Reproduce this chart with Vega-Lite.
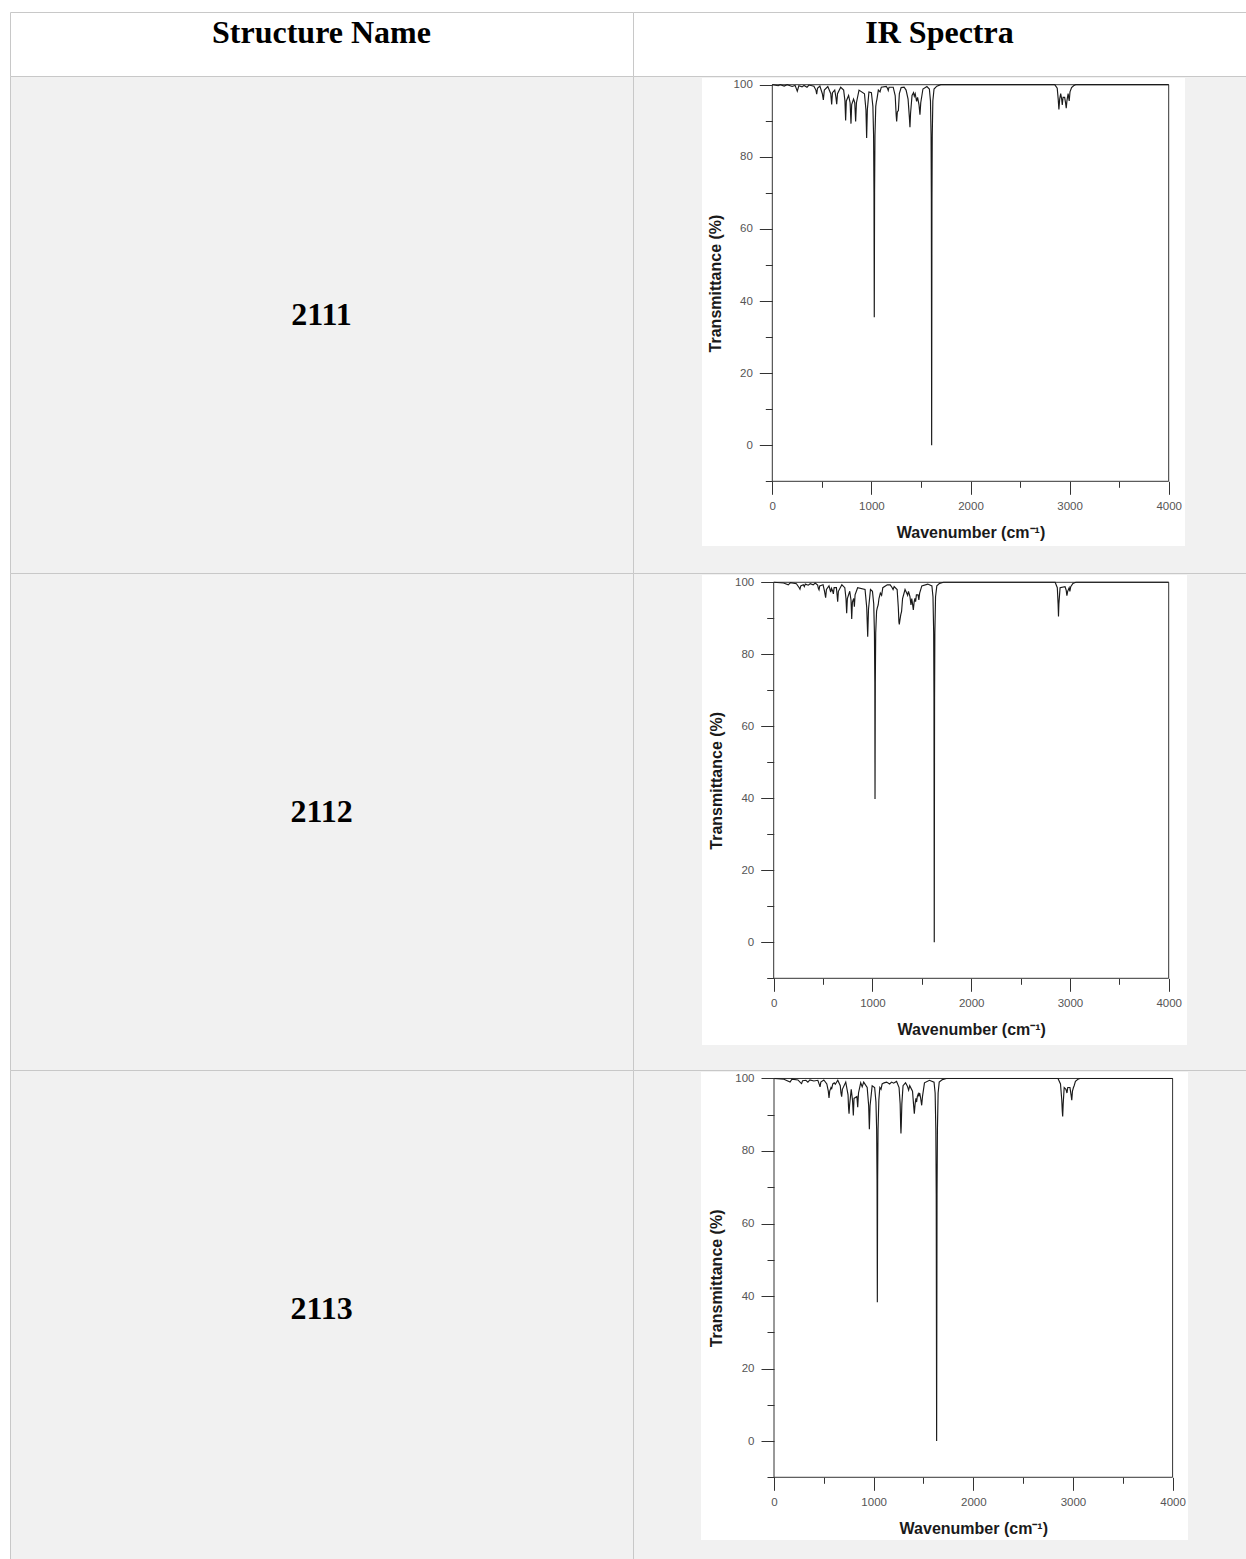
{
  "$schema": "https://vega.github.io/schema/vega-lite/v6.json",
  "background": "white",
  "padding": {"left": 9, "top": 11, "right": 0, "bottom": 0},
  "spacing": 0,
  "columns": 2,
  "bounds": "flush",
  "config": {"view": {"stroke": "#c8c8c8", "strokeWidth": 1}},
  "datasets": {
    "ir": [
      {"s":"2111","wn":0,"t":100},{"s":"2111","wn":60,"t":99.7},{"s":"2111","wn":80,"t":100},{"s":"2111","wn":120,"t":99.6},{"s":"2111","wn":150,"t":100},{"s":"2111","wn":200,"t":99.5},{"s":"2111","wn":230,"t":99.8},{"s":"2111","wn":252,"t":98.2},{"s":"2111","wn":268,"t":99.7},{"s":"2111","wn":300,"t":99.4},{"s":"2111","wn":320,"t":99.8},{"s":"2111","wn":350,"t":99.3},{"s":"2111","wn":370,"t":99.9},{"s":"2111","wn":420,"t":99.6},{"s":"2111","wn":440,"t":98.5},{"s":"2111","wn":448,"t":97.4},{"s":"2111","wn":456,"t":99.0},{"s":"2111","wn":480,"t":99.6},{"s":"2111","wn":505,"t":97.5},{"s":"2111","wn":515,"t":95.8},{"s":"2111","wn":525,"t":98.5},{"s":"2111","wn":560,"t":99.5},{"s":"2111","wn":590,"t":97.5},{"s":"2111","wn":599,"t":94.5},{"s":"2111","wn":607,"t":97.8},{"s":"2111","wn":630,"t":98.5},{"s":"2111","wn":642,"t":96.5},{"s":"2111","wn":650,"t":94.6},{"s":"2111","wn":658,"t":97.5},{"s":"2111","wn":690,"t":99.3},{"s":"2111","wn":720,"t":98.5},{"s":"2111","wn":733,"t":95.5},{"s":"2111","wn":740,"t":90.1},{"s":"2111","wn":747,"t":95.5},{"s":"2111","wn":770,"t":97},{"s":"2111","wn":785,"t":95},{"s":"2111","wn":794,"t":89.2},{"s":"2111","wn":801,"t":94.5},{"s":"2111","wn":820,"t":96},{"s":"2111","wn":832,"t":95},{"s":"2111","wn":841,"t":89.8},{"s":"2111","wn":849,"t":95},{"s":"2111","wn":875,"t":98.5},{"s":"2111","wn":930,"t":97.5},{"s":"2111","wn":945,"t":93},{"s":"2111","wn":952,"t":85.2},{"s":"2111","wn":959,"t":93},{"s":"2111","wn":975,"t":98},{"s":"2111","wn":1000,"t":97.8},{"s":"2111","wn":1015,"t":94},{"s":"2111","wn":1022,"t":86},{"s":"2111","wn":1026,"t":70},{"s":"2111","wn":1029,"t":35.5},{"s":"2111","wn":1032,"t":70},{"s":"2111","wn":1036,"t":86},{"s":"2111","wn":1044,"t":94},{"s":"2111","wn":1050,"t":95.2},{"s":"2111","wn":1056,"t":96},{"s":"2111","wn":1070,"t":98.5},{"s":"2111","wn":1087,"t":98},{"s":"2111","wn":1100,"t":99.3},{"s":"2111","wn":1150,"t":99.5},{"s":"2111","wn":1162,"t":99},{"s":"2111","wn":1170,"t":98.4},{"s":"2111","wn":1178,"t":99.3},{"s":"2111","wn":1220,"t":99.3},{"s":"2111","wn":1240,"t":97},{"s":"2111","wn":1250,"t":91.5},{"s":"2111","wn":1255,"t":89.8},{"s":"2111","wn":1262,"t":92.5},{"s":"2111","wn":1272,"t":92.8},{"s":"2111","wn":1282,"t":97.5},{"s":"2111","wn":1300,"t":99.2},{"s":"2111","wn":1330,"t":99.3},{"s":"2111","wn":1350,"t":98.5},{"s":"2111","wn":1370,"t":96},{"s":"2111","wn":1383,"t":91},{"s":"2111","wn":1389,"t":88.2},{"s":"2111","wn":1395,"t":92},{"s":"2111","wn":1410,"t":97},{"s":"2111","wn":1425,"t":97.8},{"s":"2111","wn":1433,"t":96.8},{"s":"2111","wn":1442,"t":97.5},{"s":"2111","wn":1456,"t":95.4},{"s":"2111","wn":1466,"t":96.5},{"s":"2111","wn":1480,"t":94.5},{"s":"2111","wn":1490,"t":91.7},{"s":"2111","wn":1498,"t":95},{"s":"2111","wn":1520,"t":98.8},{"s":"2111","wn":1560,"t":99.5},{"s":"2111","wn":1585,"t":98.8},{"s":"2111","wn":1596,"t":95.5},{"s":"2111","wn":1602,"t":86},{"s":"2111","wn":1605,"t":68},{"s":"2111","wn":1608,"t":0},{"s":"2111","wn":1611,"t":68},{"s":"2111","wn":1614,"t":86},{"s":"2111","wn":1620,"t":95.5},{"s":"2111","wn":1632,"t":98.8},{"s":"2111","wn":1660,"t":99.6},{"s":"2111","wn":1700,"t":100},{"s":"2111","wn":2850,"t":100},{"s":"2111","wn":2875,"t":99},{"s":"2111","wn":2885,"t":96},{"s":"2111","wn":2892,"t":93.1},{"s":"2111","wn":2900,"t":96},{"s":"2111","wn":2910,"t":97.5},{"s":"2111","wn":2920,"t":96},{"s":"2111","wn":2926,"t":94.4},{"s":"2111","wn":2934,"t":96.5},{"s":"2111","wn":2950,"t":96.5},{"s":"2111","wn":2960,"t":94.8},{"s":"2111","wn":2966,"t":93.5},{"s":"2111","wn":2973,"t":95.5},{"s":"2111","wn":2985,"t":97.5},{"s":"2111","wn":2996,"t":95.5},{"s":"2111","wn":3004,"t":98},{"s":"2111","wn":3020,"t":99.2},{"s":"2111","wn":3040,"t":99.7},{"s":"2111","wn":3060,"t":100},{"s":"2111","wn":4000,"t":100},

      {"s":"2112","wn":0,"t":100},{"s":"2112","wn":100,"t":99.8},{"s":"2112","wn":148,"t":99.3},{"s":"2112","wn":170,"t":99.9},{"s":"2112","wn":230,"t":99.6},{"s":"2112","wn":258,"t":98.5},{"s":"2112","wn":266,"t":98.1},{"s":"2112","wn":274,"t":99.0},{"s":"2112","wn":300,"t":99.3},{"s":"2112","wn":310,"t":98.8},{"s":"2112","wn":320,"t":99.5},{"s":"2112","wn":350,"t":99.2},{"s":"2112","wn":370,"t":99.6},{"s":"2112","wn":400,"t":99.3},{"s":"2112","wn":420,"t":99.8},{"s":"2112","wn":445,"t":99.2},{"s":"2112","wn":452,"t":98.3},{"s":"2112","wn":459,"t":97.9},{"s":"2112","wn":466,"t":99.0},{"s":"2112","wn":500,"t":99.3},{"s":"2112","wn":515,"t":97.5},{"s":"2112","wn":526,"t":95.7},{"s":"2112","wn":534,"t":98.0},{"s":"2112","wn":560,"t":99.0},{"s":"2112","wn":570,"t":98.0},{"s":"2112","wn":577,"t":97.3},{"s":"2112","wn":585,"t":98.3},{"s":"2112","wn":598,"t":97.5},{"s":"2112","wn":604,"t":96.8},{"s":"2112","wn":612,"t":98.5},{"s":"2112","wn":635,"t":98.5},{"s":"2112","wn":642,"t":96.5},{"s":"2112","wn":648,"t":94.6},{"s":"2112","wn":655,"t":97.5},{"s":"2112","wn":690,"t":99.3},{"s":"2112","wn":720,"t":98.5},{"s":"2112","wn":732,"t":95.5},{"s":"2112","wn":739,"t":91.4},{"s":"2112","wn":746,"t":95.5},{"s":"2112","wn":770,"t":97.5},{"s":"2112","wn":783,"t":95},{"s":"2112","wn":790,"t":89.8},{"s":"2112","wn":797,"t":94.5},{"s":"2112","wn":810,"t":95.5},{"s":"2112","wn":817,"t":93.2},{"s":"2112","wn":824,"t":96.5},{"s":"2112","wn":850,"t":98.5},{"s":"2112","wn":925,"t":98},{"s":"2112","wn":942,"t":93},{"s":"2112","wn":952,"t":84.9},{"s":"2112","wn":960,"t":92.5},{"s":"2112","wn":980,"t":98},{"s":"2112","wn":1000,"t":97.5},{"s":"2112","wn":1013,"t":94},{"s":"2112","wn":1020,"t":86},{"s":"2112","wn":1024,"t":72},{"s":"2112","wn":1026,"t":39.8},{"s":"2112","wn":1029,"t":72},{"s":"2112","wn":1033,"t":86},{"s":"2112","wn":1042,"t":92},{"s":"2112","wn":1050,"t":93},{"s":"2112","wn":1058,"t":93.7},{"s":"2112","wn":1066,"t":95.5},{"s":"2112","wn":1080,"t":97},{"s":"2112","wn":1093,"t":96.4},{"s":"2112","wn":1105,"t":98.5},{"s":"2112","wn":1150,"t":99.3},{"s":"2112","wn":1180,"t":99.3},{"s":"2112","wn":1200,"t":98.5},{"s":"2112","wn":1209,"t":98},{"s":"2112","wn":1220,"t":98.8},{"s":"2112","wn":1250,"t":98},{"s":"2112","wn":1262,"t":93},{"s":"2112","wn":1268,"t":89},{"s":"2112","wn":1272,"t":88.3},{"s":"2112","wn":1278,"t":89.5},{"s":"2112","wn":1287,"t":91},{"s":"2112","wn":1295,"t":91.9},{"s":"2112","wn":1305,"t":95.5},{"s":"2112","wn":1330,"t":98},{"s":"2112","wn":1350,"t":96.8},{"s":"2112","wn":1356,"t":96.4},{"s":"2112","wn":1365,"t":97.5},{"s":"2112","wn":1380,"t":96},{"s":"2112","wn":1390,"t":93.7},{"s":"2112","wn":1398,"t":95.5},{"s":"2112","wn":1406,"t":94},{"s":"2112","wn":1414,"t":92.3},{"s":"2112","wn":1422,"t":94.5},{"s":"2112","wn":1430,"t":95.5},{"s":"2112","wn":1437,"t":94.6},{"s":"2112","wn":1445,"t":96.5},{"s":"2112","wn":1462,"t":96.5},{"s":"2112","wn":1470,"t":95.1},{"s":"2112","wn":1478,"t":97},{"s":"2112","wn":1500,"t":99},{"s":"2112","wn":1560,"t":99.5},{"s":"2112","wn":1602,"t":99},{"s":"2112","wn":1613,"t":96},{"s":"2112","wn":1620,"t":86},{"s":"2112","wn":1623,"t":68},{"s":"2112","wn":1626,"t":0},{"s":"2112","wn":1629,"t":68},{"s":"2112","wn":1632,"t":86},{"s":"2112","wn":1639,"t":96},{"s":"2112","wn":1652,"t":99},{"s":"2112","wn":1680,"t":99.7},{"s":"2112","wn":1720,"t":100},{"s":"2112","wn":2850,"t":100},{"s":"2112","wn":2872,"t":98.5},{"s":"2112","wn":2880,"t":94},{"s":"2112","wn":2884,"t":90.5},{"s":"2112","wn":2888,"t":94},{"s":"2112","wn":2900,"t":98.5},{"s":"2112","wn":2950,"t":98.8},{"s":"2112","wn":2962,"t":97.8},{"s":"2112","wn":2969,"t":96.3},{"s":"2112","wn":2977,"t":97.5},{"s":"2112","wn":2992,"t":98.5},{"s":"2112","wn":2999,"t":97.5},{"s":"2112","wn":3008,"t":98.8},{"s":"2112","wn":3030,"t":99.7},{"s":"2112","wn":3060,"t":100},{"s":"2112","wn":4000,"t":100},

      {"s":"2113","wn":0,"t":100},{"s":"2113","wn":100,"t":99.8},{"s":"2113","wn":161,"t":99.0},{"s":"2113","wn":180,"t":99.8},{"s":"2113","wn":240,"t":99.6},{"s":"2113","wn":268,"t":98.8},{"s":"2113","wn":277,"t":98.6},{"s":"2113","wn":287,"t":99.4},{"s":"2113","wn":320,"t":99.5},{"s":"2113","wn":340,"t":99.0},{"s":"2113","wn":360,"t":99.6},{"s":"2113","wn":400,"t":99.3},{"s":"2113","wn":440,"t":99.5},{"s":"2113","wn":455,"t":98.3},{"s":"2113","wn":462,"t":97.7},{"s":"2113","wn":470,"t":99.0},{"s":"2113","wn":500,"t":99.6},{"s":"2113","wn":530,"t":98.5},{"s":"2113","wn":545,"t":96.5},{"s":"2113","wn":552,"t":94.6},{"s":"2113","wn":559,"t":96.5},{"s":"2113","wn":572,"t":97.5},{"s":"2113","wn":579,"t":97.2},{"s":"2113","wn":590,"t":98.5},{"s":"2113","wn":605,"t":98.8},{"s":"2113","wn":615,"t":98.4},{"s":"2113","wn":640,"t":99.5},{"s":"2113","wn":665,"t":98},{"s":"2113","wn":672,"t":96},{"s":"2113","wn":679,"t":95},{"s":"2113","wn":686,"t":97},{"s":"2113","wn":720,"t":99},{"s":"2113","wn":743,"t":95.5},{"s":"2113","wn":748,"t":92},{"s":"2113","wn":753,"t":90.3},{"s":"2113","wn":758,"t":92.5},{"s":"2113","wn":775,"t":97},{"s":"2113","wn":788,"t":94},{"s":"2113","wn":796,"t":89.8},{"s":"2113","wn":803,"t":94.5},{"s":"2113","wn":832,"t":95},{"s":"2113","wn":840,"t":92.1},{"s":"2113","wn":848,"t":96},{"s":"2113","wn":870,"t":98.8},{"s":"2113","wn":885,"t":97.7},{"s":"2113","wn":900,"t":99},{"s":"2113","wn":935,"t":97.5},{"s":"2113","wn":950,"t":92.5},{"s":"2113","wn":957,"t":86},{"s":"2113","wn":964,"t":92.5},{"s":"2113","wn":985,"t":98},{"s":"2113","wn":1010,"t":97.5},{"s":"2113","wn":1023,"t":93.5},{"s":"2113","wn":1030,"t":86},{"s":"2113","wn":1034,"t":72},{"s":"2113","wn":1037,"t":38.3},{"s":"2113","wn":1040,"t":72},{"s":"2113","wn":1044,"t":86},{"s":"2113","wn":1052,"t":94},{"s":"2113","wn":1062,"t":97.5},{"s":"2113","wn":1074,"t":97},{"s":"2113","wn":1085,"t":98.5},{"s":"2113","wn":1105,"t":98.8},{"s":"2113","wn":1130,"t":99},{"s":"2113","wn":1160,"t":98.5},{"s":"2113","wn":1180,"t":99},{"s":"2113","wn":1200,"t":98.7},{"s":"2113","wn":1230,"t":99.2},{"s":"2113","wn":1255,"t":97.5},{"s":"2113","wn":1266,"t":93},{"s":"2113","wn":1271,"t":87},{"s":"2113","wn":1274,"t":84.8},{"s":"2113","wn":1277,"t":87},{"s":"2113","wn":1283,"t":93},{"s":"2113","wn":1295,"t":98},{"s":"2113","wn":1320,"t":98.8},{"s":"2113","wn":1340,"t":97.8},{"s":"2113","wn":1351,"t":96.8},{"s":"2113","wn":1362,"t":98},{"s":"2113","wn":1390,"t":96.5},{"s":"2113","wn":1400,"t":93},{"s":"2113","wn":1408,"t":90.3},{"s":"2113","wn":1416,"t":93},{"s":"2113","wn":1424,"t":94.5},{"s":"2113","wn":1431,"t":93.5},{"s":"2113","wn":1438,"t":95},{"s":"2113","wn":1448,"t":95.8},{"s":"2113","wn":1454,"t":95.3},{"s":"2113","wn":1462,"t":96},{"s":"2113","wn":1472,"t":94.5},{"s":"2113","wn":1482,"t":92.6},{"s":"2113","wn":1490,"t":95},{"s":"2113","wn":1510,"t":98.8},{"s":"2113","wn":1560,"t":99.5},{"s":"2113","wn":1606,"t":99},{"s":"2113","wn":1617,"t":96},{"s":"2113","wn":1624,"t":86},{"s":"2113","wn":1628,"t":68},{"s":"2113","wn":1632,"t":0},{"s":"2113","wn":1636,"t":68},{"s":"2113","wn":1640,"t":86},{"s":"2113","wn":1647,"t":96},{"s":"2113","wn":1658,"t":99},{"s":"2113","wn":1690,"t":99.7},{"s":"2113","wn":1730,"t":100},{"s":"2113","wn":2850,"t":100},{"s":"2113","wn":2875,"t":98.5},{"s":"2113","wn":2888,"t":94},{"s":"2113","wn":2893,"t":91},{"s":"2113","wn":2897,"t":89.5},{"s":"2113","wn":2902,"t":93},{"s":"2113","wn":2912,"t":97.5},{"s":"2113","wn":2930,"t":97},{"s":"2113","wn":2940,"t":96},{"s":"2113","wn":2948,"t":97.5},{"s":"2113","wn":2970,"t":97.5},{"s":"2113","wn":2981,"t":95.5},{"s":"2113","wn":2988,"t":94},{"s":"2113","wn":2995,"t":96.5},{"s":"2113","wn":3005,"t":97.5},{"s":"2113","wn":3012,"t":98},{"s":"2113","wn":3025,"t":99.2},{"s":"2113","wn":3050,"t":99.8},{"s":"2113","wn":3070,"t":100},{"s":"2113","wn":4000,"t":100}
    ]
  },
  "concat": [
    {
      "width": 623, "height": 64,
      "view": {"fill": "white", "stroke": "#c8c8c8"},
      "data": {"values": [{"label": "Structure Name"}]},
      "mark": {"type": "text", "font": "Liberation Serif", "fontSize": 32, "fontWeight": "bold", "color": "black", "align": "center", "baseline": "alphabetic", "dy": -1},
      "encoding": {"text": {"field": "label"}}
    },
    {
      "width": 613, "height": 64,
      "view": {"fill": "white", "stroke": "#c8c8c8"},
      "data": {"values": [{"label": "IR Spectra"}]},
      "mark": {"type": "text", "font": "Liberation Serif", "fontSize": 32, "fontWeight": "bold", "color": "black", "align": "center", "baseline": "alphabetic", "dy": -1},
      "encoding": {"text": {"field": "label"}}
    },
    {
      "width": 623, "height": 497,
      "view": {"fill": "#f1f1f1", "stroke": "#c8c8c8"},
      "data": {"values": [{"label": "2111"}]},
      "mark": {"type": "text", "font": "Liberation Serif", "fontSize": 32, "fontWeight": "bold", "color": "black", "align": "center", "baseline": "alphabetic", "dy": 0},
      "encoding": {"text": {"field": "label"}}
    },
    {
      "width": 613, "height": 497,
      "view": {"fill": "#f1f1f1", "stroke": "#c8c8c8"},
      "layer": [
        {
          "data": {"values": [{}]},
          "mark": {"type": "rect", "fill": "white"},
          "encoding": {
            "x": {"datum": -709, "type": "quantitative", "scale": {"domain": [-1405.7, 4780], "nice": false, "zero": false}, "axis": {"title": "Wavenumber (cm⁻¹)"}},
            "x2": {"datum": 4164.5},
            "y": {"datum": 101.86, "type": "quantitative", "scale": {"domain": [-35.43, 102.41], "nice": false, "zero": false}, "axis": {"title": "Transmittance (%)"}},
            "y2": {"datum": -27.94}
          }
        },
        {
          "data": {"values": [{}]},
          "mark": {"type": "rect", "filled": false, "color": "#333333", "strokeWidth": 1},
          "encoding": {
            "x": {"datum": 0, "type": "quantitative", "scale": {"domain": [-1405.7, 4780], "nice": false, "zero": false}, "axis": {"title": "Wavenumber (cm⁻¹)"}},
            "x2": {"datum": 4000},
            "y": {"datum": -10, "type": "quantitative", "scale": {"domain": [-35.43, 102.41], "nice": false, "zero": false}, "axis": {"title": "Transmittance (%)"}},
            "y2": {"datum": 100}
          }
        },
        {
          "data": {"name": "ir"},
          "transform": [{"filter": "datum.s === '2111'"}],
          "mark": {"type": "line", "color": "#1a1a1a", "strokeWidth": 1.15},
          "encoding": {
            "x": {"field": "wn", "type": "quantitative", "scale": {"domain": [-1405.7, 4780], "nice": false, "zero": false},
              "axis": {"title": "Wavenumber (cm⁻¹)", "zindex": 1, "values": [0,500,1000,1500,2000,2500,3000,3500,4000], "format": "d", "offset": -91.7, "domain": false, "grid": false, "tickColor": "#333333", "tickWidth": 1,
                "tickSize": {"condition": {"test": "datum.value % 1000 === 0", "value": 13}, "value": 6},
                "labelExpr": "datum.value % 1000 === 0 ? datum.label : ''", "labelPadding": 6, "labelFont": "Liberation Sans", "labelFontSize": 11.5, "labelColor": "#555555", "labelFlush": false, "labelOverlap": false, "labelBound": false,
                "titleFont": "Liberation Sans", "titleFontSize": 16, "titleFontWeight": "bold", "titleColor": "#1a1a1a", "titlePadding": 13, "titleX": 337.5}},
            "y": {"field": "t", "type": "quantitative", "scale": {"domain": [-35.43, 102.41], "nice": false, "zero": false},
              "axis": {"title": "Transmittance (%)", "zindex": 1, "values": [-10,0,10,20,30,40,50,60,70,80,90,100], "format": "d", "offset": -139.3, "domain": false, "grid": false, "tickColor": "#333333", "tickWidth": 1,
                "tickSize": {"condition": {"test": "datum.value % 20 === 0", "value": 13}, "value": 7},
                "labelExpr": "datum.value % 20 === 0 ? datum.label : ''", "labelPadding": 7, "labelFont": "Liberation Sans", "labelFontSize": 11.5, "labelColor": "#555555", "labelFlush": false, "labelOverlap": false, "labelBound": false,
                "titleFont": "Liberation Sans", "titleFontSize": 16, "titleFontWeight": "bold", "titleColor": "#1a1a1a", "titlePadding": 10, "titleY": 207}}
          }
        }
      ]
    },
    {
      "width": 623, "height": 497,
      "view": {"fill": "#f1f1f1", "stroke": "#c8c8c8"},
      "data": {"values": [{"label": "2112"}]},
      "mark": {"type": "text", "font": "Liberation Serif", "fontSize": 32, "fontWeight": "bold", "color": "black", "align": "center", "baseline": "alphabetic", "dy": 0},
      "encoding": {"text": {"field": "label"}}
    },
    {
      "width": 613, "height": 497,
      "view": {"fill": "#f1f1f1", "stroke": "#c8c8c8"},
      "layer": [
        {
          "data": {"values": [{}]},
          "mark": {"type": "rect", "fill": "white"},
          "encoding": {
            "x": {"datum": -726, "type": "quantitative", "scale": {"domain": [-1424.8, 4782.8], "nice": false, "zero": false}, "axis": {"title": "Wavenumber (cm⁻¹)"}},
            "x2": {"datum": 4185},
            "y": {"datum": 102.03, "type": "quantitative", "scale": {"domain": [-35.47, 102.58], "nice": false, "zero": false}, "axis": {"title": "Transmittance (%)"}},
            "y2": {"datum": -28.5}
          }
        },
        {
          "data": {"values": [{}]},
          "mark": {"type": "rect", "filled": false, "color": "#333333", "strokeWidth": 1},
          "encoding": {
            "x": {"datum": 0, "type": "quantitative", "scale": {"domain": [-1424.8, 4782.8], "nice": false, "zero": false}, "axis": {"title": "Wavenumber (cm⁻¹)"}},
            "x2": {"datum": 4000},
            "y": {"datum": -10, "type": "quantitative", "scale": {"domain": [-35.47, 102.58], "nice": false, "zero": false}, "axis": {"title": "Transmittance (%)"}},
            "y2": {"datum": 100}
          }
        },
        {
          "data": {"name": "ir"},
          "transform": [{"filter": "datum.s === '2112'"}],
          "mark": {"type": "line", "color": "#1a1a1a", "strokeWidth": 1.15},
          "encoding": {
            "x": {"field": "wn", "type": "quantitative", "scale": {"domain": [-1424.8, 4782.8], "nice": false, "zero": false},
              "axis": {"title": "Wavenumber (cm⁻¹)", "zindex": 1, "values": [0,500,1000,1500,2000,2500,3000,3500,4000], "format": "d", "offset": -91.7, "domain": false, "grid": false, "tickColor": "#333333", "tickWidth": 1,
                "tickSize": {"condition": {"test": "datum.value % 1000 === 0", "value": 13}, "value": 6},
                "labelExpr": "datum.value % 1000 === 0 ? datum.label : ''", "labelPadding": 6, "labelFont": "Liberation Sans", "labelFontSize": 11.5, "labelColor": "#555555", "labelFlush": false, "labelOverlap": false, "labelBound": false,
                "titleFont": "Liberation Sans", "titleFontSize": 16, "titleFontWeight": "bold", "titleColor": "#1a1a1a", "titlePadding": 13, "titleX": 338.2}},
            "y": {"field": "t", "type": "quantitative", "scale": {"domain": [-35.47, 102.58], "nice": false, "zero": false},
              "axis": {"title": "Transmittance (%)", "zindex": 1, "values": [-10,0,10,20,30,40,50,60,70,80,90,100], "format": "d", "offset": -140.7, "domain": false, "grid": false, "tickColor": "#333333", "tickWidth": 1,
                "tickSize": {"condition": {"test": "datum.value % 20 === 0", "value": 13}, "value": 7},
                "labelExpr": "datum.value % 20 === 0 ? datum.label : ''", "labelPadding": 7, "labelFont": "Liberation Sans", "labelFontSize": 11.5, "labelColor": "#555555", "labelFlush": false, "labelOverlap": false, "labelBound": false,
                "titleFont": "Liberation Sans", "titleFontSize": 16, "titleFontWeight": "bold", "titleColor": "#1a1a1a", "titlePadding": 10, "titleY": 207.3}}
          }
        }
      ]
    },
    {
      "width": 623, "height": 489,
      "view": {"fill": "#f1f1f1", "stroke": "#c8c8c8"},
      "data": {"values": [{"label": "2113"}]},
      "mark": {"type": "text", "font": "Liberation Serif", "fontSize": 32, "fontWeight": "bold", "color": "black", "align": "center", "baseline": "alphabetic", "dy": 4},
      "encoding": {"text": {"field": "label"}}
    },
    {
      "width": 613, "height": 489,
      "view": {"fill": "#f1f1f1", "stroke": "#c8c8c8"},
      "layer": [
        {
          "data": {"values": [{}]},
          "mark": {"type": "rect", "fill": "white"},
          "encoding": {
            "x": {"datum": -732.6, "type": "quantitative", "scale": {"domain": [-1415, 4736.6], "nice": false, "zero": false}, "axis": {"title": "Wavenumber (cm⁻¹)"}},
            "x2": {"datum": 4154.5},
            "y": {"datum": 101.8, "type": "quantitative", "scale": {"domain": [-32.54, 102.34], "nice": false, "zero": false}, "axis": {"title": "Transmittance (%)"}},
            "y2": {"datum": -27.3}
          }
        },
        {
          "data": {"values": [{}]},
          "mark": {"type": "rect", "filled": false, "color": "#333333", "strokeWidth": 1},
          "encoding": {
            "x": {"datum": 0, "type": "quantitative", "scale": {"domain": [-1415, 4736.6], "nice": false, "zero": false}, "axis": {"title": "Wavenumber (cm⁻¹)"}},
            "x2": {"datum": 4000},
            "y": {"datum": -10, "type": "quantitative", "scale": {"domain": [-32.54, 102.34], "nice": false, "zero": false}, "axis": {"title": "Transmittance (%)"}},
            "y2": {"datum": 100}
          }
        },
        {
          "data": {"name": "ir"},
          "transform": [{"filter": "datum.s === '2113'"}],
          "mark": {"type": "line", "color": "#1a1a1a", "strokeWidth": 1.15},
          "encoding": {
            "x": {"field": "wn", "type": "quantitative", "scale": {"domain": [-1415, 4736.6], "nice": false, "zero": false},
              "axis": {"title": "Wavenumber (cm⁻¹)", "zindex": 1, "values": [0,500,1000,1500,2000,2500,3000,3500,4000], "format": "d", "offset": -81.7, "domain": false, "grid": false, "tickColor": "#333333", "tickWidth": 1,
                "tickSize": {"condition": {"test": "datum.value % 1000 === 0", "value": 13}, "value": 6},
                "labelExpr": "datum.value % 1000 === 0 ? datum.label : ''", "labelPadding": 6, "labelFont": "Liberation Sans", "labelFontSize": 11.5, "labelColor": "#555555", "labelFlush": false, "labelOverlap": false, "labelBound": false,
                "titleFont": "Liberation Sans", "titleFontSize": 16, "titleFontWeight": "bold", "titleColor": "#1a1a1a", "titlePadding": 13, "titleX": 340.3}},
            "y": {"field": "t", "type": "quantitative", "scale": {"domain": [-32.54, 102.34], "nice": false, "zero": false},
              "axis": {"title": "Transmittance (%)", "zindex": 1, "values": [-10,0,10,20,30,40,50,60,70,80,90,100], "format": "d", "offset": -141, "domain": false, "grid": false, "tickColor": "#333333", "tickWidth": 1,
                "tickSize": {"condition": {"test": "datum.value % 20 === 0", "value": 13}, "value": 7},
                "labelExpr": "datum.value % 20 === 0 ? datum.label : ''", "labelPadding": 7, "labelFont": "Liberation Sans", "labelFontSize": 11.5, "labelColor": "#555555", "labelFlush": false, "labelOverlap": false, "labelBound": false,
                "titleFont": "Liberation Sans", "titleFontSize": 16, "titleFontWeight": "bold", "titleColor": "#1a1a1a", "titlePadding": 10, "titleY": 207.9}}
          }
        }
      ]
    }
  ]
}
